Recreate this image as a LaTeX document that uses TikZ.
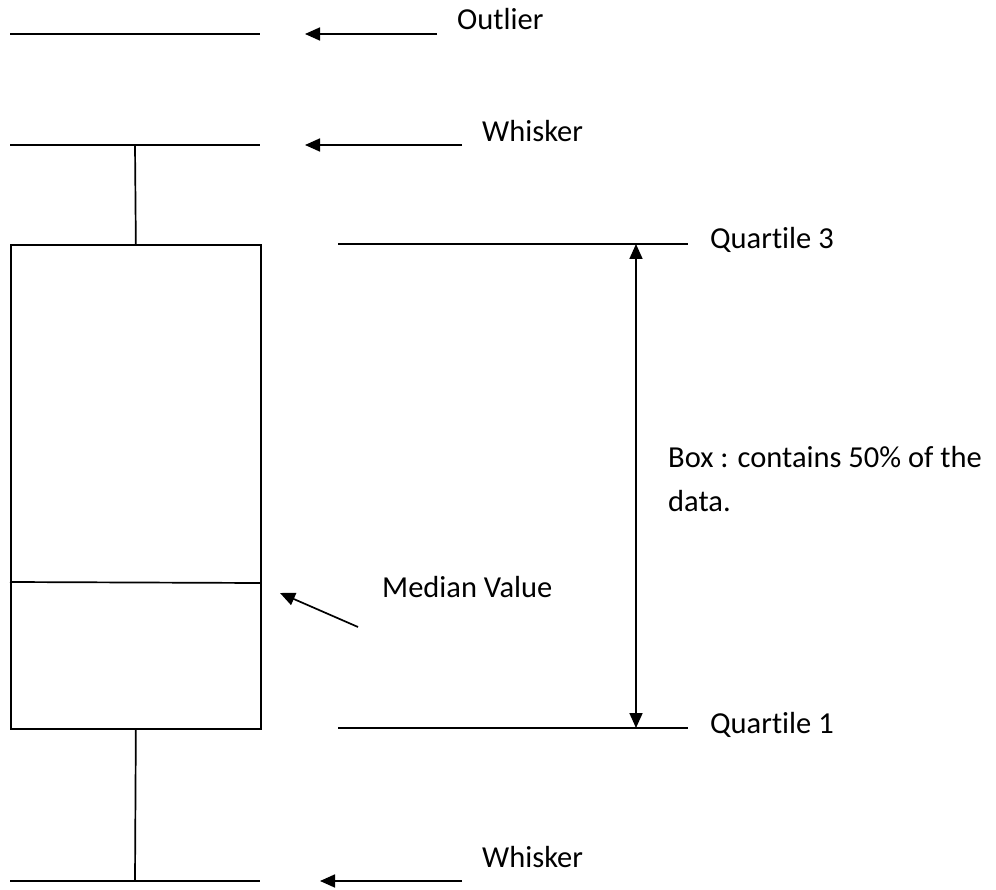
\documentclass[tikz,border=0pt]{standalone}
\usepackage{fontspec}
\setmainfont[Ligatures=NoCommon]{Carlito}
\usetikzlibrary{positioning,arrows.meta}

\begin{document}
\begin{tikzpicture}[
    x=1pt, y=-1pt,
    line/.style={draw=black, line width=1.7pt},
    pointer/.style={-{Triangle[length=15pt, width=13pt]}, line width=1.7pt},
    span/.style={{Triangle[length=15pt, width=13pt]}-{Triangle[length=15pt, width=13pt]}, line width=1.7pt},
    label/.style={anchor=base west, inner sep=0pt, font=\fontsize{30.5}{44}\selectfont}
]
\useasboundingbox (0,0) rectangle (996,890);

% box and whiskers
\node[line, rectangle, inner sep=0pt, minimum width=250pt, minimum height=484pt, anchor=north west] (box) at (10,244) {};
\coordinate (medL) at (10,582);
\coordinate (medR) at (260,583);
\draw[line] (medL) -- (medR);

\coordinate (outL) at (10,34);
\coordinate (outR) at (260,34);
\draw[line] (outL) -- (outR);

\coordinate (topL) at (10,145);
\coordinate (topR) at (260,145);
\coordinate (topM) at (135,145);
\draw[line] (topL) -- (topR);
\draw[line] (topM) -- (box.north);

\coordinate (botL) at (10,881);
\coordinate (botR) at (260,881);
\coordinate (botM) at (135,881);
\draw[line] (botL) -- (botR);
\draw[line] (box.south) -- (botM);

% quartile lines
\coordinate (q3L) at (338,244);
\coordinate (q3R) at (688,244);
\coordinate (q1L) at (338,728);
\coordinate (q1R) at (688,728);
\draw[line] (q3L) -- (q3R);
\draw[line] (q1L) -- (q1R);
\coordinate (q3A) at (636,244);
\coordinate (q1A) at (636,728);
\draw[span] (q3A) -- (q1A);

% labels
\node[label] (outlier) at (457,30) {Outlier};
\node[label] (whiskerT) at (482,142) {Whisker};
\node[label] (quart3) at (710,249) {Quartile 3};
\node[label] (boxtxt) at (668,467) {Box : contains 50\% of the};
\node[label] (boxtxt2) at (668,511) {data.};
\node[label] (median) at (382,597) {Median Value};
\node[label] (quart1) at (710,733) {Quartile 1};
\node[label] (whiskerB) at (482,867) {Whisker};

% pointers
\coordinate (outS) at (437,34);
\coordinate (outE) at (305,34);
\draw[pointer] (outS) -- (outE);
\coordinate (whTS) at (462,145);
\coordinate (whTE) at (305,145);
\draw[pointer] (whTS) -- (whTE);
\coordinate (medS) at (358,627);
\coordinate (medE) at (280,593);
\draw[pointer] (medS) -- (medE);
\coordinate (whBS) at (462,881);
\coordinate (whBE) at (320,881);
\draw[pointer] (whBS) -- (whBE);

\end{tikzpicture}
\end{document}
